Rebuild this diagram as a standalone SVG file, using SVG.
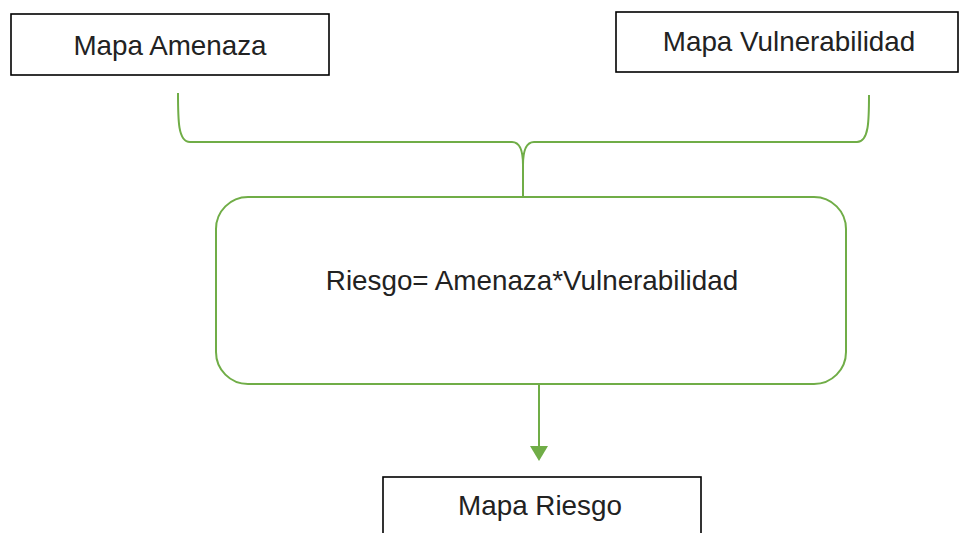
<svg xmlns="http://www.w3.org/2000/svg" width="962" height="533" viewBox="0 0 962 533">
<style>
.box{fill:#fff;stroke:#000;stroke-width:1.6}
.txt{font-family:"Liberation Sans",Arial,sans-serif;font-size:27.8px;fill:#222;text-anchor:middle}
.g{fill:none;stroke:#70AD47;stroke-width:2}
</style>
<rect width="962" height="533" fill="#fff"/>
<g id="connectors">
<path class="g" d="M178,93 C178,120 178,142 190,142 L512,142 Q523,142 523,165 L523,200 M523,165 Q523,142 534,142 L857,142 C869,142 869,120 869,95"/>
<path d="M539,384 L539,447" class="g"/>
<path d="M530,446 L548,446 L539,461 Z" fill="#70AD47"/>
</g>
<g id="mapa-amenaza">
<rect class="box" x="11" y="14" width="318" height="61"/>
<text class="txt" x="170" y="55">Mapa Amenaza</text>
</g>
<g id="mapa-vulnerabilidad">
<rect class="box" x="616" y="12" width="342" height="60"/>
<text class="txt" x="789" y="51">Mapa Vulnerabilidad</text>
</g>
<g id="riesgo">
<rect x="216" y="197" width="630" height="187" rx="32" fill="#fff" stroke="#70AD47" stroke-width="2"/>
<text class="txt" x="532" y="290">Riesgo= Amenaza*Vulnerabilidad</text>
</g>
<g id="mapa-riesgo">
<rect class="box" x="383" y="477" width="318" height="70"/>
<text class="txt" x="540" y="515">Mapa Riesgo</text>
</g>
</svg>
